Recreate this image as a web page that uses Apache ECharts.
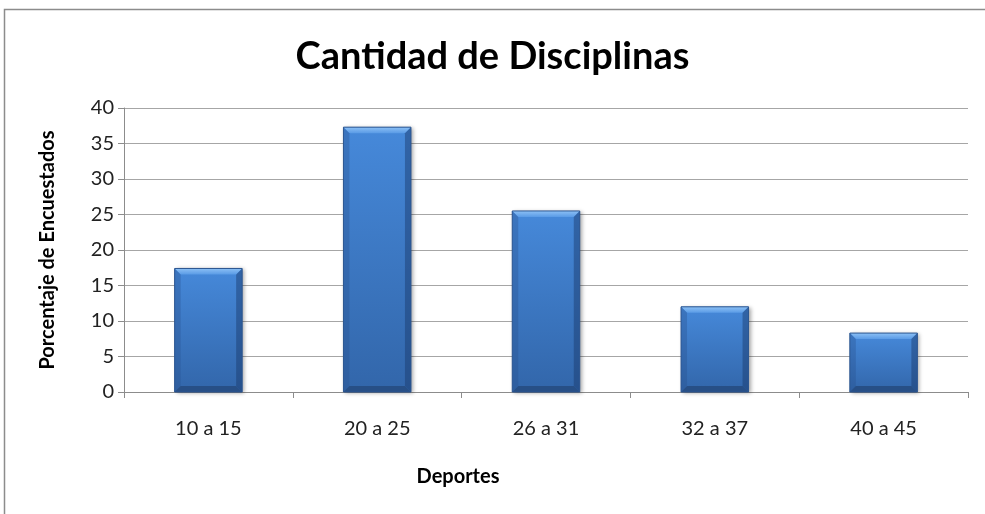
<!DOCTYPE html>
<html>
<head>
<meta charset="utf-8">
<script src="https://cdn.jsdelivr.net/npm/echarts@6/dist/echarts.min.js"></script>
<style>
  html, body { margin: 0; padding: 0; background: #fff; }
  #chart { width: 985px; height: 514px; }
</style>
</head>
<body>
<div id="chart"></div>
<script>
  var categories = ['10 a 15', '20 a 25', '26 a 31', '32 a 37', '40 a 45'];
  var porcentajes = [17.4, 37.3, 25.5, 12.0, 8.3];
  var yTicks = { min: 0, max: 40, interval: 5 };

  var myChart = echarts.init(document.getElementById('chart'));
  var font = 'Lato, "Open Sans", sans-serif';

  // barra con bisel (estilo Excel)
  function renderBar(params, api) {
    var top = api.coord([api.value(0), api.value(1)]);
    var base = api.coord([api.value(0), 0]);
    var w = api.size([1, 0])[0] * 0.4;
    var l = top[0] - w / 2, r = top[0] + w / 2;
    var t = top[1], b = base[1];
    var bv = 6;
    return {
      type: 'group',
      children: [
        {
          type: 'rect',
          shape: { x: l, y: t, width: w, height: b - t },
          style: {
            fill: new echarts.graphic.LinearGradient(0, 0, 0, 1, [
              { offset: 0, color: '#4689da' },
              { offset: 1, color: '#3266aa' }
            ]),
            shadowColor: 'rgba(0,0,0,0.35)',
            shadowBlur: 4,
            shadowOffsetX: 2,
            shadowOffsetY: 1
          }
        },
        {
          type: 'polygon',
          shape: { points: [[l, t], [r, t], [r - bv, t + bv], [l + bv, t + bv]] },
          style: {
            fill: new echarts.graphic.LinearGradient(0, 0, 0, 1, [
              { offset: 0, color: '#8cc0f5' },
              { offset: 1, color: '#5a9be6' }
            ])
          }
        },
        {
          type: 'polygon',
          shape: { points: [[l, t], [l + bv, t + bv], [l + bv, b - bv], [l, b]] },
          style: { fill: 'rgba(40,80,140,0.35)' }
        },
        {
          type: 'polygon',
          shape: { points: [[r, t], [r - bv, t + bv], [r - bv, b - bv], [r, b]] },
          style: { fill: 'rgba(25,55,105,0.45)' }
        },
        {
          type: 'polygon',
          shape: { points: [[l, b], [l + bv, b - bv], [r - bv, b - bv], [r, b]] },
          style: { fill: '#274f86' }
        },
        {
          type: 'rect',
          shape: { x: l, y: t, width: w, height: b - t },
          style: { fill: 'none', stroke: '#2b5590', lineWidth: 1 }
        }
      ]
    };
  }

  var option = {
    animation: false,
    title: [
      {
        text: 'Cantidad de Disciplinas',
        left: 'center',
        top: 33,
        textStyle: { fontFamily: font, fontSize: 38, fontWeight: 'bold', color: '#000' }
      },
      {
        // titulo del eje x
        text: 'Deportes',
        left: 453,
        top: 462,
        textAlign: 'center',
        textStyle: { fontFamily: font, fontSize: 20, fontWeight: 'bold', color: '#000' }
      }
    ],
    graphic: [
      {
        type: 'rect',
        shape: { x: 4.5, y: 9.5, width: 1000, height: 520 },
        style: { fill: 'none', stroke: '#8c8c8c', lineWidth: 1.5 },
        silent: true
      }
    ],
    grid: { left: 124, right: 17, top: 108, bottom: 122 },
    xAxis: {
      type: 'category',
      data: categories,
      axisLine: { lineStyle: { color: '#8c8c8c' } },
      axisTick: { show: true, length: 6, lineStyle: { color: '#8c8c8c' } },
      axisLabel: { fontFamily: font, fontSize: 20, color: '#222', margin: 27 }
    },
    yAxis: {
      type: 'value',
      min: yTicks.min,
      max: yTicks.max,
      interval: yTicks.interval,
      name: 'Porcentaje de Encuestados',
      nameLocation: 'middle',
      nameGap: 66,
      nameTextStyle: { fontFamily: font, fontSize: 20, fontWeight: 'bold', color: '#000' },
      axisLine: { show: true, lineStyle: { color: '#8c8c8c' } },
      axisTick: { show: true, length: 6, lineStyle: { color: '#8c8c8c' } },
      axisLabel: { fontFamily: font, fontSize: 20, color: '#222', margin: 10 },
      splitLine: { lineStyle: { color: '#a6a6a6', width: 1 } }
    },
    series: [
      {
        type: 'custom',
        renderItem: renderBar,
        encode: { x: 0, y: 1 },
        data: porcentajes.map(function (v, i) { return [i, v]; }),
        z: 3
      }
    ]
  };

  option && myChart.setOption(option);
</script>
</body>
</html>
